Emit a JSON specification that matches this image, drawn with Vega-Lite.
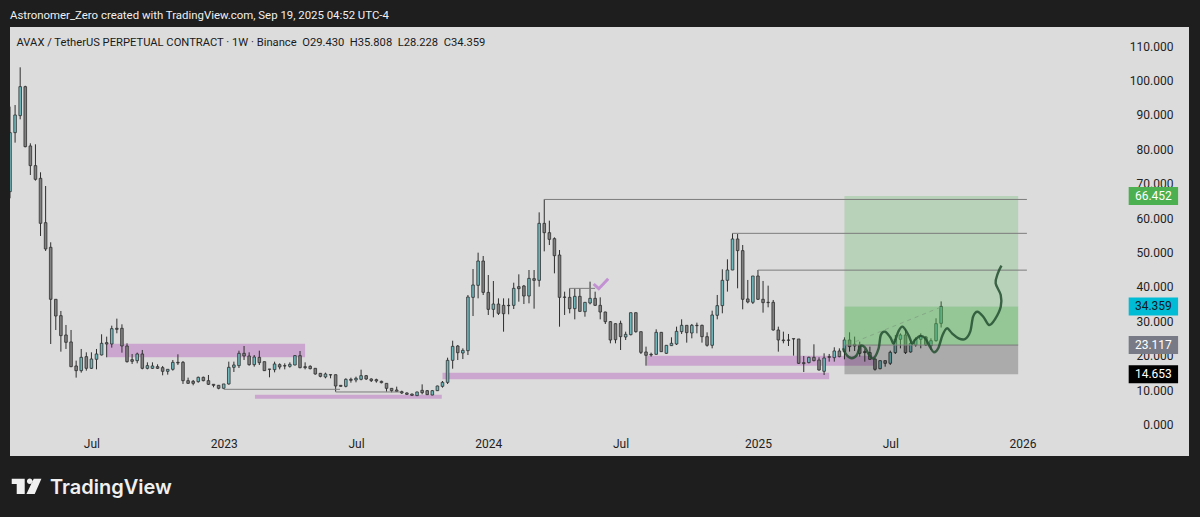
{
  "$schema": "https://vega.github.io/schema/vega-lite/v6.json",
  "autosize": "none",
  "width": 1179,
  "height": 429,
  "padding": {"left": 10, "top": 27, "right": 11, "bottom": 61},
  "background": "#1e1e1e",
  "view": {"fill": "#dcdcdc", "stroke": null},
  "config": {"font": "Roboto", "axis": {"grid": false, "domain": false, "ticks": false, "labelOverlap": false}, "scale": {"continuousPadding": 0}},
  "title": {
    "text": "Astronomer_Zero created with TradingView.com, Sep 19, 2025 04:52 UTC-4",
    "anchor": "start",
    "frame": "group",
    "offset": 6,
    "color": "#f0f0f0",
    "fontSize": 11.4,
    "fontWeight": "normal"
  },
  "datasets": {
    "candles": [
      {"t":"2022-03-14","o":67.72,"h":92.43,"l":65.78,"c":84.87},
      {"t":"2022-03-21","o":84.87,"h":92.9,"l":81.96,"c":90.0},
      {"t":"2022-03-28","o":89.81,"h":103.86,"l":88.74,"c":98.24},
      {"t":"2022-04-04","o":98.24,"h":98.5,"l":80.6,"c":80.8},
      {"t":"2022-04-11","o":81.0,"h":81.77,"l":72.56,"c":75.28},
      {"t":"2022-04-18","o":75.28,"h":81.48,"l":70.92,"c":71.3},
      {"t":"2022-04-25","o":71.59,"h":73.34,"l":54.83,"c":58.51},
      {"t":"2022-05-02","o":58.7,"h":69.36,"l":50.47,"c":51.05},
      {"t":"2022-05-09","o":51.54,"h":52.99,"l":23.43,"c":36.42},
      {"t":"2022-05-16","o":36.42,"h":36.42,"l":27.5,"c":31.57},
      {"t":"2022-05-23","o":31.67,"h":33.03,"l":21.2,"c":25.86},
      {"t":"2022-05-30","o":26.05,"h":28.96,"l":21.98,"c":23.92},
      {"t":"2022-06-06","o":24.02,"h":27.5,"l":16.7,"c":16.84},
      {"t":"2022-06-13","o":17.04,"h":18.59,"l":13.65,"c":15.68},
      {"t":"2022-06-20","o":15.68,"h":21.98,"l":15.1,"c":19.56},
      {"t":"2022-06-27","o":19.75,"h":21.01,"l":15.68,"c":16.36},
      {"t":"2022-07-04","o":16.36,"h":21.01,"l":16.17,"c":19.07},
      {"t":"2022-07-11","o":18.98,"h":21.98,"l":16.07,"c":20.53},
      {"t":"2022-07-18","o":20.24,"h":26.25,"l":20.1,"c":23.63},
      {"t":"2022-07-25","o":23.82,"h":25.57,"l":19.56,"c":23.43},
      {"t":"2022-08-01","o":23.43,"h":28.76,"l":22.37,"c":27.89},
      {"t":"2022-08-08","o":27.99,"h":30.8,"l":26.54,"c":27.7},
      {"t":"2022-08-15","o":27.99,"h":29.15,"l":20.91,"c":22.85},
      {"t":"2022-08-22","o":22.85,"h":23.63,"l":18.01,"c":18.3},
      {"t":"2022-08-29","o":18.88,"h":20.53,"l":17.62,"c":18.4},
      {"t":"2022-09-05","o":18.59,"h":20.92,"l":17.81,"c":20.53},
      {"t":"2022-09-12","o":20.53,"h":21.69,"l":16.07,"c":16.36},
      {"t":"2022-09-19","o":16.36,"h":18.1,"l":16.07,"c":17.14},
      {"t":"2022-09-26","o":16.36,"h":18.1,"l":16.17,"c":17.04},
      {"t":"2022-10-03","o":16.84,"h":17.52,"l":16.17,"c":16.36},
      {"t":"2022-10-10","o":16.55,"h":17.04,"l":14.33,"c":15.49},
      {"t":"2022-10-17","o":15.49,"h":16.07,"l":14.52,"c":16.07},
      {"t":"2022-10-24","o":16.07,"h":18.78,"l":15.68,"c":18.1},
      {"t":"2022-10-31","o":18.1,"h":20.43,"l":17.33,"c":17.91},
      {"t":"2022-11-07","o":18.1,"h":18.49,"l":11.81,"c":12.77},
      {"t":"2022-11-14","o":12.77,"h":13.65,"l":11.81,"c":12.0},
      {"t":"2022-11-21","o":12.58,"h":12.97,"l":11.42,"c":12.0},
      {"t":"2022-11-28","o":12.48,"h":13.94,"l":12.19,"c":13.74},
      {"t":"2022-12-05","o":13.74,"h":13.94,"l":12.58,"c":12.77},
      {"t":"2022-12-12","o":12.77,"h":14.42,"l":11.52,"c":11.71},
      {"t":"2022-12-19","o":11.71,"h":11.71,"l":10.84,"c":11.42},
      {"t":"2022-12-26","o":11.42,"h":11.52,"l":10.26,"c":10.55},
      {"t":"2023-01-02","o":10.55,"h":11.81,"l":10.45,"c":11.81},
      {"t":"2023-01-09","o":11.81,"h":18.3,"l":11.61,"c":16.65},
      {"t":"2023-01-16","o":16.65,"h":18.3,"l":15.29,"c":17.33},
      {"t":"2023-01-23","o":17.13,"h":21.49,"l":16.45,"c":20.72},
      {"t":"2023-01-30","o":20.72,"h":22.85,"l":18.78,"c":19.94},
      {"t":"2023-02-06","o":19.94,"h":21.01,"l":17.13,"c":17.42},
      {"t":"2023-02-13","o":17.42,"h":20.23,"l":16.84,"c":19.65},
      {"t":"2023-02-20","o":19.55,"h":21.49,"l":17.32,"c":18.0},
      {"t":"2023-02-27","o":18.29,"h":18.29,"l":15.6,"c":15.68},
      {"t":"2023-03-06","o":16.16,"h":16.16,"l":13.74,"c":16.06},
      {"t":"2023-03-13","o":15.97,"h":18.29,"l":15.19,"c":17.62},
      {"t":"2023-03-20","o":17.42,"h":17.81,"l":16.06,"c":16.74},
      {"t":"2023-03-27","o":17.13,"h":17.81,"l":16.06,"c":17.03},
      {"t":"2023-04-03","o":16.94,"h":18.1,"l":16.55,"c":17.52},
      {"t":"2023-04-10","o":17.32,"h":20.23,"l":17.23,"c":20.04},
      {"t":"2023-04-17","o":20.04,"h":21.39,"l":16.36,"c":16.55},
      {"t":"2023-04-24","o":16.84,"h":18.1,"l":16.06,"c":16.55},
      {"t":"2023-05-01","o":16.94,"h":17.23,"l":16.06,"c":16.26},
      {"t":"2023-05-08","o":16.36,"h":16.36,"l":14.51,"c":14.71},
      {"t":"2023-05-15","o":14.9,"h":15.0,"l":13.74,"c":14.03},
      {"t":"2023-05-22","o":13.84,"h":15.1,"l":13.45,"c":14.71},
      {"t":"2023-05-29","o":14.51,"h":14.51,"l":13.45,"c":14.42},
      {"t":"2023-06-05","o":14.51,"h":14.51,"l":9.57,"c":11.22},
      {"t":"2023-06-12","o":11.41,"h":11.51,"l":11.03,"c":11.12},
      {"t":"2023-06-19","o":11.12,"h":13.45,"l":10.83,"c":13.16},
      {"t":"2023-06-26","o":13.16,"h":13.64,"l":12.19,"c":12.87},
      {"t":"2023-07-03","o":12.97,"h":13.93,"l":12.29,"c":13.45},
      {"t":"2023-07-10","o":13.16,"h":15.97,"l":12.87,"c":14.22},
      {"t":"2023-07-17","o":14.22,"h":14.42,"l":12.97,"c":13.26},
      {"t":"2023-07-24","o":13.26,"h":13.45,"l":12.38,"c":12.77},
      {"t":"2023-07-31","o":13.06,"h":13.35,"l":12.19,"c":12.67},
      {"t":"2023-08-07","o":12.58,"h":12.77,"l":11.99,"c":12.19},
      {"t":"2023-08-14","o":11.99,"h":11.99,"l":9.57,"c":10.54},
      {"t":"2023-08-21","o":10.54,"h":10.54,"l":9.38,"c":9.86},
      {"t":"2023-08-28","o":10.06,"h":11.03,"l":9.48,"c":9.67},
      {"t":"2023-09-04","o":9.57,"h":9.86,"l":8.89,"c":9.19},
      {"t":"2023-09-11","o":9.19,"h":9.38,"l":8.6,"c":8.8},
      {"t":"2023-09-18","o":8.89,"h":8.99,"l":8.31,"c":8.51},
      {"t":"2023-09-25","o":8.41,"h":9.57,"l":8.31,"c":9.48},
      {"t":"2023-10-02","o":9.96,"h":11.7,"l":8.8,"c":9.28},
      {"t":"2023-10-09","o":9.86,"h":10.06,"l":8.6,"c":8.7},
      {"t":"2023-10-16","o":8.6,"h":10.06,"l":8.51,"c":9.86},
      {"t":"2023-10-23","o":9.86,"h":11.32,"l":9.77,"c":11.22},
      {"t":"2023-10-30","o":11.12,"h":12.67,"l":10.74,"c":12.29},
      {"t":"2023-11-06","o":12.28,"h":19.45,"l":11.8,"c":18.68},
      {"t":"2023-11-13","o":18.68,"h":24.39,"l":16.25,"c":22.75},
      {"t":"2023-11-20","o":22.84,"h":23.13,"l":18.77,"c":20.9},
      {"t":"2023-11-27","o":20.81,"h":22.17,"l":19.06,"c":21.58},
      {"t":"2023-12-04","o":21.49,"h":37.67,"l":20.23,"c":37.09},
      {"t":"2023-12-11","o":36.99,"h":45.23,"l":31.56,"c":40.58},
      {"t":"2023-12-18","o":40.48,"h":49.98,"l":36.7,"c":47.55},
      {"t":"2023-12-25","o":47.55,"h":49.01,"l":37.67,"c":38.44},
      {"t":"2024-01-01","o":38.44,"h":43.48,"l":31.86,"c":33.5},
      {"t":"2024-01-08","o":33.5,"h":41.74,"l":31.18,"c":35.05},
      {"t":"2024-01-15","o":35.05,"h":36.7,"l":31.86,"c":32.34},
      {"t":"2024-01-22","o":34.67,"h":36.7,"l":27.01,"c":32.24},
      {"t":"2024-01-29","o":34.67,"h":36.7,"l":32.05,"c":34.57},
      {"t":"2024-02-05","o":34.67,"h":41.25,"l":33.6,"c":39.61},
      {"t":"2024-02-12","o":40.09,"h":43.68,"l":35.73,"c":39.51},
      {"t":"2024-02-19","o":40.29,"h":40.58,"l":35.05,"c":37.38},
      {"t":"2024-02-26","o":37.38,"h":44.94,"l":35.25,"c":42.51},
      {"t":"2024-03-04","o":42.42,"h":44.94,"l":33.7,"c":41.93},
      {"t":"2024-03-11","o":41.93,"h":61.7,"l":40.09,"c":58.5},
      {"t":"2024-03-18","o":58.5,"h":65.48,"l":50.36,"c":55.79},
      {"t":"2024-03-25","o":55.79,"h":59.28,"l":52.2,"c":53.85},
      {"t":"2024-04-01","o":54.05,"h":54.43,"l":43.97,"c":49.1},
      {"t":"2024-04-08","o":49.3,"h":50.75,"l":28.46,"c":36.99},
      {"t":"2024-04-15","o":37.09,"h":38.64,"l":31.86,"c":36.99},
      {"t":"2024-04-22","o":36.99,"h":39.61,"l":32.34,"c":33.7},
      {"t":"2024-04-29","o":33.7,"h":39.61,"l":30.6,"c":37.28},
      {"t":"2024-05-06","o":37.28,"h":39.61,"l":32.82,"c":32.92},
      {"t":"2024-05-13","o":32.82,"h":35.54,"l":31.37,"c":35.54},
      {"t":"2024-05-20","o":35.34,"h":41.55,"l":34.96,"c":36.7},
      {"t":"2024-05-27","o":36.7,"h":38.64,"l":34.47,"c":34.67},
      {"t":"2024-06-03","o":34.67,"h":36.99,"l":30.6,"c":32.73},
      {"t":"2024-06-10","o":32.73,"h":32.82,"l":29.24,"c":29.92},
      {"t":"2024-06-17","o":29.92,"h":30.11,"l":23.62,"c":24.59},
      {"t":"2024-06-24","o":29.34,"h":29.43,"l":23.62,"c":24.68},
      {"t":"2024-07-01","o":29.43,"h":30.21,"l":21.68,"c":25.56},
      {"t":"2024-07-08","o":25.46,"h":27.01,"l":24.59,"c":26.24},
      {"t":"2024-07-15","o":26.14,"h":32.53,"l":25.94,"c":32.53},
      {"t":"2024-07-22","o":32.53,"h":32.6,"l":26.72,"c":27.01},
      {"t":"2024-07-29","o":27.01,"h":27.01,"l":20.52,"c":21.0},
      {"t":"2024-08-05","o":21.11,"h":22.66,"l":17.13,"c":20.14},
      {"t":"2024-08-12","o":20.43,"h":20.91,"l":19.75,"c":20.24},
      {"t":"2024-08-19","o":20.43,"h":27.7,"l":20.33,"c":26.82},
      {"t":"2024-08-26","o":26.82,"h":26.92,"l":21.11,"c":21.2},
      {"t":"2024-09-02","o":20.72,"h":23.14,"l":20.53,"c":23.05},
      {"t":"2024-09-09","o":22.95,"h":25.37,"l":22.85,"c":23.63},
      {"t":"2024-09-16","o":23.43,"h":28.47,"l":23.14,"c":27.11},
      {"t":"2024-09-23","o":27.02,"h":30.6,"l":26.34,"c":28.86},
      {"t":"2024-09-30","o":28.86,"h":28.86,"l":23.82,"c":26.73},
      {"t":"2024-10-07","o":26.63,"h":29.25,"l":25.08,"c":28.86},
      {"t":"2024-10-14","o":28.86,"h":29.63,"l":26.53,"c":28.76},
      {"t":"2024-10-21","o":28.86,"h":29.05,"l":23.82,"c":25.56},
      {"t":"2024-10-28","o":25.56,"h":26.82,"l":22.66,"c":23.05},
      {"t":"2024-11-04","o":23.05,"h":33.12,"l":22.17,"c":31.86},
      {"t":"2024-11-11","o":31.77,"h":37.68,"l":30.6,"c":34.58},
      {"t":"2024-11-18","o":34.58,"h":45.14,"l":32.35,"c":41.94},
      {"t":"2024-11-25","o":41.94,"h":48.05,"l":38.65,"c":44.94},
      {"t":"2024-12-02","o":44.94,"h":55.6,"l":44.9,"c":53.96},
      {"t":"2024-12-09","o":53.96,"h":55.41,"l":39.62,"c":50.57},
      {"t":"2024-12-16","o":50.57,"h":52.21,"l":33.51,"c":36.42},
      {"t":"2024-12-23","o":36.52,"h":42.04,"l":35.26,"c":35.64},
      {"t":"2024-12-30","o":35.55,"h":43.2,"l":35.06,"c":43.2},
      {"t":"2025-01-06","o":43.2,"h":44.94,"l":36.22,"c":36.42},
      {"t":"2025-01-13","o":36.42,"h":41.75,"l":32.54,"c":35.45},
      {"t":"2025-01-20","o":35.55,"h":40.39,"l":34.09,"c":35.45},
      {"t":"2025-01-27","o":35.55,"h":36.22,"l":27.31,"c":27.5},
      {"t":"2025-02-03","o":27.5,"h":28.47,"l":21.2,"c":24.6},
      {"t":"2025-02-10","o":24.6,"h":27.02,"l":23.63,"c":24.4},
      {"t":"2025-02-17","o":24.6,"h":26.34,"l":22.85,"c":24.5},
      {"t":"2025-02-24","o":24.98,"h":24.98,"l":20.04,"c":24.89},
      {"t":"2025-03-03","o":24.89,"h":24.89,"l":17.62,"c":17.81},
      {"t":"2025-03-10","o":18.01,"h":19.94,"l":15.29,"c":17.72},
      {"t":"2025-03-17","o":18.01,"h":19.75,"l":17.81,"c":19.56},
      {"t":"2025-03-24","o":19.56,"h":23.34,"l":18.39,"c":18.59},
      {"t":"2025-03-31","o":18.78,"h":19.56,"l":15.68,"c":15.87},
      {"t":"2025-04-07","o":15.49,"h":20.72,"l":14.42,"c":19.36},
      {"t":"2025-04-14","o":19.75,"h":20.53,"l":18.3,"c":19.56},
      {"t":"2025-04-21","o":19.46,"h":22.47,"l":18.3,"c":21.4},
      {"t":"2025-04-28","o":21.4,"h":22.17,"l":19.56,"c":19.75},
      {"t":"2025-05-05","o":21.21,"h":25.37,"l":18.98,"c":24.6},
      {"t":"2025-05-12","o":24.6,"h":26.83,"l":21.21,"c":22.66},
      {"t":"2025-05-19","o":23.34,"h":25.57,"l":21.4,"c":22.85},
      {"t":"2025-05-26","o":23.14,"h":24.11,"l":19.75,"c":20.72},
      {"t":"2025-06-02","o":21.21,"h":21.88,"l":18.3,"c":20.92},
      {"t":"2025-06-09","o":20.92,"h":22.66,"l":18.78,"c":18.98},
      {"t":"2025-06-16","o":19.07,"h":19.27,"l":15.68,"c":16.07},
      {"t":"2025-06-23","o":16.26,"h":18.59,"l":16.07,"c":18.59},
      {"t":"2025-06-30","o":18.59,"h":18.59,"l":16.84,"c":17.81},
      {"t":"2025-07-07","o":17.81,"h":21.5,"l":17.33,"c":21.01},
      {"t":"2025-07-14","o":20.92,"h":26.05,"l":20.53,"c":24.79},
      {"t":"2025-07-21","o":24.79,"h":26.53,"l":22.17,"c":26.05},
      {"t":"2025-07-28","o":26.05,"h":27.7,"l":20.53,"c":20.92},
      {"t":"2025-08-04","o":21.11,"h":24.6,"l":20.92,"c":23.63},
      {"t":"2025-08-11","o":23.14,"h":25.37,"l":22.66,"c":24.79},
      {"t":"2025-08-18","o":24.79,"h":26.53,"l":22.17,"c":25.76},
      {"t":"2025-08-25","o":25.47,"h":25.76,"l":22.85,"c":23.14},
      {"t":"2025-09-01","o":22.95,"h":25.08,"l":21.69,"c":24.4},
      {"t":"2025-09-08","o":24.4,"h":30.9,"l":24.11,"c":29.35},
      {"t":"2025-09-15","o":29.43,"h":35.808,"l":28.228,"c":34.359}
    ],
    "zones": [
      {"start":"2022-07-25","end":"2023-04-24","low":19.6,"high":23.5},
      {"start":"2023-02-14","end":"2023-10-29","low":7.53,"high":8.69},
      {"start":"2023-10-30","end":"2025-04-14","low":13.2,"high":15.09},
      {"start":"2024-08-06","end":"2025-06-15","low":17.09,"high":20.0}
    ],
    "position": [
      {"start":"2025-05-05","end":"2025-12-30","low":34.359,"high":66.452,"part":"target"},
      {"start":"2025-05-05","end":"2025-12-30","low":23.117,"high":34.359,"part":"open profit"},
      {"start":"2025-05-05","end":"2025-12-30","low":14.653,"high":23.117,"part":"stop"}
    ],
    "levels": [
      {"start":"2024-03-18","end":"2026-01-11","price":65.45},
      {"start":"2024-12-02","end":"2026-01-11","price":55.6},
      {"start":"2025-01-06","end":"2026-01-11","price":44.9},
      {"start":"2023-01-02","end":"2023-06-11","price":10.26},
      {"start":"2023-06-05","end":"2023-09-02","price":9.48},
      {"start":"2024-04-22","end":"2024-05-27","price":39.6},
      {"start":"2025-05-05","end":"2025-12-30","price":23.117}
    ],
    "trend": [
      {"start":"2025-05-20","end":"2025-09-13","from":24.1,"to":34.0}
    ],
    "check": [
      {"t":"2024-05-25","price":40.87,"n":1},
      {"t":"2024-06-01","price":39.5,"n":2},
      {"t":"2024-06-14","price":42.4,"n":3}
    ],
    "scribble": [
      {"t":"2025-05-03","price":22.18,"n":1},
      {"t":"2025-05-08","price":20.23,"n":2},
      {"t":"2025-05-15","price":19.27,"n":3},
      {"t":"2025-05-22","price":20.23,"n":4},
      {"t":"2025-05-27","price":22.85,"n":5},
      {"t":"2025-06-02","price":22.47,"n":6},
      {"t":"2025-06-08","price":20.23,"n":7},
      {"t":"2025-06-14","price":19.27,"n":8},
      {"t":"2025-06-21","price":22.18,"n":9},
      {"t":"2025-06-24","price":26.05,"n":10},
      {"t":"2025-06-30","price":27.0,"n":11},
      {"t":"2025-07-07","price":25.38,"n":12},
      {"t":"2025-07-12","price":23.63,"n":13},
      {"t":"2025-07-18","price":27.0,"n":14},
      {"t":"2025-07-24","price":28.46,"n":15},
      {"t":"2025-08-01","price":26.05,"n":16},
      {"t":"2025-08-06","price":23.63,"n":17},
      {"t":"2025-08-10","price":24.6,"n":18},
      {"t":"2025-08-17","price":25.76,"n":19},
      {"t":"2025-08-24","price":25.09,"n":20},
      {"t":"2025-08-31","price":22.47,"n":21},
      {"t":"2025-09-05","price":21.02,"n":22},
      {"t":"2025-09-11","price":22.18,"n":23},
      {"t":"2025-09-17","price":26.05,"n":24},
      {"t":"2025-09-23","price":27.99,"n":25},
      {"t":"2025-09-30","price":26.54,"n":26},
      {"t":"2025-10-09","price":25.09,"n":27},
      {"t":"2025-10-18","price":24.88,"n":28},
      {"t":"2025-10-25","price":27.0,"n":29},
      {"t":"2025-10-29","price":31.37,"n":30},
      {"t":"2025-11-04","price":32.82,"n":31},
      {"t":"2025-11-12","price":31.37,"n":32},
      {"t":"2025-11-20","price":28.95,"n":33},
      {"t":"2025-11-28","price":30.6,"n":34},
      {"t":"2025-12-06","price":34.27,"n":35},
      {"t":"2025-12-06","price":37.67,"n":36},
      {"t":"2025-11-29","price":41.08,"n":37},
      {"t":"2025-12-02","price":43.98,"n":38},
      {"t":"2025-12-07","price":46.19,"n":39}
    ],
    "tags": [
      {"price":66.452,"label":"66.452","kind":"target"},
      {"price":34.359,"label":"34.359","kind":"last"},
      {"price":23.117,"label":"23.117","kind":"entry"},
      {"price":14.653,"label":"14.653","kind":"stop"}
    ]
  },
  "layer": [
    {
      "data": {"name": "zones"},
      "mark": {"type": "rect", "color": "#cba7cf"},
      "encoding": {
        "x": {
          "field": "start", "type": "temporal",
          "scale": {"type": "utc", "domain": ["2022-03-14", "2026-08-22"], "nice": false},
          "axis": {
            "title": null,
            "offset": -13, "labelPadding": 0, "labelBaseline": "middle",
            "labelColor": "#222222", "labelFontSize": 12, "labelOverlap": false, "labelFlush": false,
            "values": ["2022-07-04", "2023-01-02", "2023-07-03", "2024-01-01", "2024-07-01", "2025-01-06", "2025-07-07", "2026-01-05"],
            "labelExpr": "utcmonth(datum.value) == 0 ? utcyear(datum.value) + '' : 'Jul'"
          }
        },
        "x2": {"field": "end"},
        "y": {
          "field": "low", "type": "quantitative",
          "scale": {"domain": [-9.13, 115.58], "nice": false, "zero": false},
          "axis": {
            "title": null, "orient": "right",
            "offset": -16, "labelPadding": 0, "labelAlign": "right",
            "labelColor": "#222222", "labelFontSize": 12, "labelOverlap": false, "labelFlush": false,
            "values": [0, 10, 20, 30, 40, 50, 60, 70, 80, 90, 100, 110],
            "tickCount": 12,
            "format": ".3f"
          }
        },
        "y2": {"field": "high"}
      }
    },
    {
      "data": {"name": "candles"},
      "mark": {"type": "rule", "color": "#2e2e2e", "strokeWidth": 1, "clip": true},
      "encoding": {
        "x": {"field": "t", "type": "temporal", "scale": {"type": "utc", "domain": ["2022-03-14", "2026-08-22"], "nice": false}, "axis": {"title": null}},
        "y": {"field": "l", "type": "quantitative", "scale": {"domain": [-9.13, 115.58], "nice": false, "zero": false}, "axis": {"title": null}},
        "y2": {"field": "h"}
      }
    },
    {
      "data": {"name": "candles"},
      "mark": {"type": "bar", "width": 2.6, "stroke": "#2e2e2e", "strokeWidth": 0.8, "clip": true},
      "encoding": {
        "x": {"field": "t", "type": "temporal", "scale": {"type": "utc", "domain": ["2022-03-14", "2026-08-22"], "nice": false}, "axis": {"title": null}},
        "y": {"field": "o", "type": "quantitative", "scale": {"domain": [-9.13, 115.58], "nice": false, "zero": false}, "axis": {"title": null}},
        "y2": {"field": "c"},
        "color": {"condition": {"test": "datum.c >= datum.o", "value": "#6fb8bc"}, "value": "#808080"}
      }
    },
    {
      "data": {"name": "position"},
      "mark": {"type": "rect"},
      "encoding": {
        "x": {"field": "start", "type": "temporal", "scale": {"type": "utc", "domain": ["2022-03-14", "2026-08-22"], "nice": false}, "axis": {"title": null}},
        "x2": {"field": "end"},
        "y": {"field": "low", "type": "quantitative", "scale": {"domain": [-9.13, 115.58], "nice": false, "zero": false}, "axis": {"title": null}},
        "y2": {"field": "high"},
        "color": {
          "field": "part", "type": "nominal", "legend": null,
          "scale": {"domain": ["target", "open profit", "stop"], "range": ["rgba(76,175,80,0.25)", "rgba(76,175,80,0.5)", "rgba(0,0,0,0.22)"]}
        }
      }
    },
    {
      "data": {"name": "levels"},
      "mark": {"type": "rule", "color": "#7c7c7c", "strokeWidth": 1},
      "encoding": {
        "x": {"field": "start", "type": "temporal", "scale": {"type": "utc", "domain": ["2022-03-14", "2026-08-22"], "nice": false}, "axis": {"title": null}},
        "x2": {"field": "end"},
        "y": {"field": "price", "type": "quantitative", "scale": {"domain": [-9.13, 115.58], "nice": false, "zero": false}, "axis": {"title": null}}
      }
    },
    {
      "data": {"name": "trend"},
      "mark": {"type": "rule", "color": "#86a886", "strokeWidth": 1, "strokeDash": [4, 4]},
      "encoding": {
        "x": {"field": "start", "type": "temporal", "scale": {"type": "utc", "domain": ["2022-03-14", "2026-08-22"], "nice": false}, "axis": {"title": null}},
        "x2": {"field": "end"},
        "y": {"field": "from", "type": "quantitative", "scale": {"domain": [-9.13, 115.58], "nice": false, "zero": false}, "axis": {"title": null}},
        "y2": {"field": "to"}
      }
    },
    {
      "data": {"name": "check"},
      "mark": {"type": "line", "color": "#c391d3", "strokeWidth": 3},
      "encoding": {
        "x": {"field": "t", "type": "temporal", "scale": {"type": "utc", "domain": ["2022-03-14", "2026-08-22"], "nice": false}, "axis": {"title": null}},
        "y": {"field": "price", "type": "quantitative", "scale": {"domain": [-9.13, 115.58], "nice": false, "zero": false}, "axis": {"title": null}},
        "order": {"field": "n"}
      }
    },
    {
      "data": {"name": "scribble"},
      "mark": {"type": "line", "color": "#234f30", "strokeWidth": 2.4, "opacity": 0.85, "interpolate": "cardinal"},
      "encoding": {
        "x": {"field": "t", "type": "temporal", "scale": {"type": "utc", "domain": ["2022-03-14", "2026-08-22"], "nice": false}, "axis": {"title": null}},
        "y": {"field": "price", "type": "quantitative", "scale": {"domain": [-9.13, 115.58], "nice": false, "zero": false}, "axis": {"title": null}},
        "order": {"field": "n"}
      }
    },
    {
      "data": {"name": "tags"},
      "mark": {"type": "point", "filled": true, "opacity": 1, "size": 2441, "shape": "M-1,-0.364H1V0.364H-1Z"},
      "encoding": {
        "x": {"datum": {"year": 2026, "month": 7, "date": 4, "utc": true}, "type": "temporal", "scale": {"type": "utc", "domain": ["2022-03-14", "2026-08-22"], "nice": false}, "axis": {"title": null}},
        "y": {"field": "price", "type": "quantitative", "scale": {"domain": [-9.13, 115.58], "nice": false, "zero": false}, "axis": {"title": null}},
        "color": {
          "field": "kind", "type": "nominal", "legend": null,
          "scale": {"domain": ["target", "last", "entry", "stop"], "range": ["#4caf50", "#00bcd4", "#787b86", "#000000"]}
        }
      }
    },
    {
      "data": {"name": "tags"},
      "mark": {"type": "text", "fontSize": 12, "baseline": "middle", "align": "center"},
      "encoding": {
        "x": {"datum": {"year": 2026, "month": 7, "date": 4, "utc": true}, "type": "temporal", "scale": {"type": "utc", "domain": ["2022-03-14", "2026-08-22"], "nice": false}, "axis": {"title": null}},
        "y": {"field": "price", "type": "quantitative", "scale": {"domain": [-9.13, 115.58], "nice": false, "zero": false}, "axis": {"title": null}},
        "text": {"field": "label"},
        "color": {
          "field": "kind", "type": "nominal", "legend": null,
          "scale": {"domain": ["target", "last", "entry", "stop"], "range": ["#ffffff", "#131722", "#ffffff", "#ffffff"]}
        }
      }
    },
    {
      "data": {"values": [{"text": "AVAX / TetherUS PERPETUAL CONTRACT · 1W · Binance\u00a0\u00a0O29.430\u00a0\u00a0H35.808\u00a0\u00a0L28.228\u00a0\u00a0C34.359"}]},
      "mark": {"type": "text", "fontSize": 11.2, "align": "left", "baseline": "middle", "color": "#1a1a1a"},
      "encoding": {
        "x": {"datum": {"year": 2022, "month": 3, "date": 23, "utc": true}, "type": "temporal", "scale": {"type": "utc", "domain": ["2022-03-14", "2026-08-22"], "nice": false}, "axis": {"title": null}},
        "y": {"datum": 111.0, "type": "quantitative", "scale": {"domain": [-9.13, 115.58], "nice": false, "zero": false}, "axis": {"title": null}},
        "text": {"field": "text"}
      }
    },
    {
      "data": {"values": [{"text": "TradingView"}]},
      "mark": {"type": "text", "fontSize": 20, "fontWeight": 600, "font": "Inter", "align": "left", "baseline": "alphabetic", "color": "#f0f0f0", "clip": false},
      "encoding": {
        "x": {"datum": {"year": 2022, "month": 5, "date": 8, "utc": true}, "type": "temporal", "scale": {"type": "utc", "domain": ["2022-03-14", "2026-08-22"], "nice": false}, "axis": {"title": null}},
        "y": {"datum": -20.26, "type": "quantitative", "scale": {"domain": [-9.13, 115.58], "nice": false, "zero": false}, "axis": {"title": null}},
        "text": {"field": "text"}
      }
    },
    {
      "data": {"values": [{"logo": "TradingView"}]},
      "mark": {
        "type": "point", "filled": true, "opacity": 1, "size": 4, "color": "#f0f0f0",
        "shape": "M-15,-7.7H-2V7.6H-10V-2.4H-15Z M0.2,-5.2a2.8,2.8 0 1 0 5.6,0a2.8,2.8 0 1 0 -5.6,0Z M7,-7.7H14.7L8,7.6H-0.3Z"
      },
      "encoding": {
        "x": {"datum": {"year": 2022, "month": 4, "date": 6, "utc": true}, "type": "temporal", "scale": {"type": "utc", "domain": ["2022-03-14", "2026-08-22"], "nice": false}, "axis": {"title": null}},
        "y": {"datum": -18.0, "type": "quantitative", "scale": {"domain": [-9.13, 115.58], "nice": false, "zero": false}, "axis": {"title": null}}
      }
    }
  ],
  "resolve": {"scale": {"color": "independent"}}
}
